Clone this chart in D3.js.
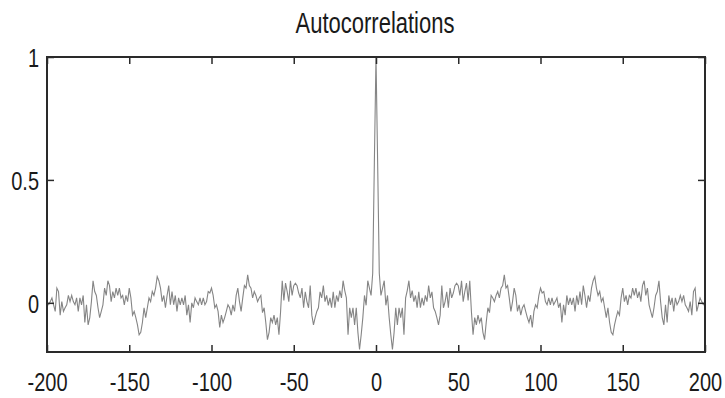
<!DOCTYPE html>
<html>
<head>
<meta charset="utf-8">
<script src="https://cdn.jsdelivr.net/npm/d3@7"></script>
<style>
  html, body { margin: 0; padding: 0; background: #fff; }
  svg { display: block; }
  text { font-family: "Liberation Sans", Arial, sans-serif; fill: #1a1a1a; }
</style>
</head>
<body>
<svg id="chart" width="725" height="398"></svg>
<script>
// Sample autocorrelation for non-negative lags 0..200 (the sequence is symmetric in lag).
const acfPositive = [
  1, 0.57, 0.12, 0.03, 0.06, 0.09, -0.01, 0.03, -0.06, -0.13,
  -0.19, -0.12, -0.02, -0.09, -0.02, -0.06, -0.02, -0.13, 0.02, 0.05,
  0.09, 0.02, 0.05, 0.005, 0.03, -0.02, 0.045, -0.02, 0.02, -0.01,
  0.03, 0.005, 0.07, 0.02, 0.045, -0.02, -0.035, -0.06, -0.09, -0.05,
  0.07, -0.02, 0.005, 0.045, -0.02, 0.06, 0.02, 0.04, 0.07, 0.08,
  0.07, 0.03, 0.09, 0.005, 0.046, 0.08, 0.01, 0.09, -0.035, -0.13,
  -0.06, -0.09, -0.05, -0.08, -0.06, -0.12, -0.15, -0.08, -0.02, -0.04,
  0.03, 0.02, 0.005, 0.03, 0.046, 0.02, 0.06, 0.07, 0.114, 0.06,
  0.07, 0.02, -0.035, 0.005, 0.06, 0.03, -0.035, -0.008, -0.05, -0.02,
  -0.008, -0.035, -0.06, -0.08, -0.05, -0.1, -0.035, -0.008, -0.02, 0.03,
  0.06, 0.04, 0.046, 0.005, -0.008, 0.02, -0.008, 0.02, -0.008, 0.005,
  0.02, -0.02, 0, -0.08, -0.008, -0.05, 0.03, -0.008, 0.02, -0.008,
  0.02, -0.035, 0.03, -0.008, 0.046, -0.008, 0.07, 0.03, -0.02, 0.03,
  0.005, 0.06, 0.09, 0.107, 0.06, 0.03, 0.046, 0.005, 0.02, -0.02,
  -0.06, -0.02, -0.08, -0.12, -0.13, -0.09, -0.06, -0.035, -0.05, 0.02,
  0.06, 0.005, 0.03, -0.008, 0.03, 0.02, 0.06, 0.03, 0.06, 0.02,
  0.046, 0.005, 0.07, 0.09, 0.03, 0.06, -0.008, -0.035, -0.06, -0.02,
  0.03, 0.046, 0.09, 0.005, -0.06, -0.09, -0.008, -0.08, 0.03, -0.008,
  0.02, -0.035, 0.02, -0.008, 0.005, 0.03, 0.005, 0.03, -0.008, -0.02,
  -0.035, 0.005, -0.05, 0.046, 0.06, -0.035, -0.008, 0.02, 0.005, -0.008,
  -0.008
];
const lagTicks = [-200, -150, -100, -50, 0, 50, 100, 150, 200];
const valueTicks = [0, 0.5, 1];
const titleText = "Autocorrelations";

// Full two-sided series, lags -200..200
const maxLag = acfPositive.length - 1;
const series = d3.range(-maxLag, maxLag + 1).map(k => ({ lag: k, r: acfPositive[Math.abs(k)] }));

const svg = d3.select("#chart");
const plotLeft = 47, plotRight = 705, plotTop = 57, plotBottom = 352;
const stretch = 1.3;

const x = d3.scaleLinear().domain([-200, 200]).range([plotLeft, plotRight]);
const y = d3.scaleLinear().domain([-0.2, 1]).range([plotBottom, plotTop]);

svg.append("rect").attr("width", 725).attr("height", 398).attr("fill", "#fff");

// Data line
svg.append("path")
  .datum(series)
  .attr("fill", "none")
  .attr("stroke", "#858585")
  .attr("stroke-width", 1.1)
  .attr("d", d3.line().x(d => x(d.lag)).y(d => y(d.r)));

const tickLen = 7;
const axisStroke = "#2a2a2a";
const plainLabel = d => String(d);   // ASCII hyphen for negatives

function styleAxis(g) {
  g.select(".domain").remove();
  g.selectAll(".tick line").attr("stroke", axisStroke).attr("stroke-width", 1.5);
}

// Bottom axis with labels
const gx = svg.append("g")
  .attr("transform", `translate(0,${plotBottom})`)
  .call(d3.axisBottom(x).tickValues(lagTicks).tickSizeInner(-tickLen).tickSizeOuter(0).tickFormat(plainLabel))
  .call(styleAxis);
gx.selectAll(".tick text")
  .attr("y", 39 / stretch).attr("dy", 0)
  .attr("transform", `scale(1,${stretch})`)
  .attr("font-size", 20)
  .attr("fill", "#1a1a1a");

// Top axis, ticks only
svg.append("g")
  .attr("transform", `translate(0,${plotTop})`)
  .call(d3.axisTop(x).tickValues(lagTicks).tickSizeInner(-tickLen).tickSizeOuter(0).tickFormat(""))
  .call(styleAxis);

// Left axis with labels
const gy = svg.append("g")
  .attr("transform", `translate(${plotLeft},0)`)
  .call(d3.axisLeft(y).tickValues(valueTicks).tickSizeInner(-tickLen).tickSizeOuter(0).tickFormat(plainLabel))
  .call(styleAxis);
gy.selectAll(".tick text")
  .attr("x", -8).attr("dy", 0).attr("y", 9.3 / stretch)
  .attr("transform", `scale(1,${stretch})`)
  .attr("font-size", 20)
  .attr("fill", "#1a1a1a");

// Right axis, ticks only
svg.append("g")
  .attr("transform", `translate(${plotRight},0)`)
  .call(d3.axisRight(y).tickValues(valueTicks).tickSizeInner(-tickLen).tickSizeOuter(0).tickFormat(""))
  .call(styleAxis);

// Plot frame
svg.append("rect")
  .attr("x", plotLeft).attr("y", plotTop)
  .attr("width", plotRight - plotLeft).attr("height", plotBottom - plotTop)
  .attr("fill", "none")
  .attr("stroke", axisStroke)
  .attr("stroke-width", 2);

// Title
svg.append("g")
  .attr("transform", `translate(${(plotLeft + plotRight) / 2 - 1},33) scale(1,${stretch})`)
  .append("text")
  .attr("text-anchor", "middle")
  .attr("font-size", 22)
  .text(titleText);
</script>
</body>
</html>
